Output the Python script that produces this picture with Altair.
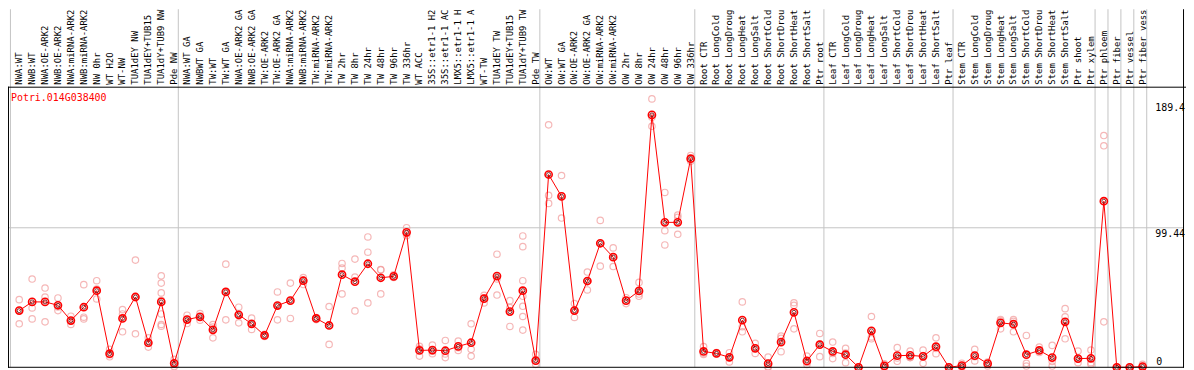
import altair as alt
import pandas as pd

gene_id = "Potri.014G038400"

categories = [
    "NWA:WT", "NWB:WT", "NWA:OE-ARK2", "NWB:OE-ARK2", "NWA:miRNA-ARK2", "NWB:miRNA-ARK2",
    "NW 0hr", "WT H2O", "WT-NW", "TUA1dEY NW", "TUA1dEY+TUB15", "TUA1dY+TUB9 NW", "Pde NW",
    "NWA:WT GA", "NWBWT GA", "TW:WT", "TW:WT GA", "NWA:OE-ARK2 GA", "NWB:OE-ARK2 GA",
    "TW:OE-ARK2", "TW:OE-ARK2 GA", "NWA:miRNA-ARK2", "NWB:miRNA-ARK2", "TW:miRNA-ARK2",
    "TW:miRNA-ARK2", "TW 2hr", "TW 8hr", "TW 24hr", "TW 48hr", "TW 96hr", "TW 336hr",
    "WT ACC", "35S::etr1-1 H2", "35S::etr1-1 AC", "LMX5::etr1-1 H", "LMX5::etr1-1 A",
    "WT-TW", "TUA1dEY TW", "TUA1dEY+TUB15", "TUA1dY+TUB9 TW", "Pde TW",
    "OW:WT", "OW:WT GA", "OW:OE-ARK2", "OW:OE-ARK2 GA", "OW:miRNA-ARK2", "OW:miRNA-ARK2",
    "OW 2hr", "OW 8hr", "OW 24hr", "OW 48hr", "OW 96hr", "OW 336hr",
    "Root CTR", "Root LongCold", "Root LongDroug", "Root LongHeat", "Root LongSalt",
    "Root ShortCold", "Root ShortDrou", "Root ShortHeat", "Root ShortSalt", "Ptr root",
    "Leaf CTR", "Leaf LongCold", "Leaf LongDroug", "Leaf LongHeat", "Leaf LongSalt",
    "Leaf ShortCold", "Leaf ShortDrou", "Leaf ShortHeat", "Leaf ShortSalt", "Ptr leaf",
    "Stem CTR", "Stem LongCold", "Stem LongDroug", "Stem LongHeat", "Stem LongSalt",
    "Stem ShortCold", "Stem ShortDrou", "Stem ShortHeat", "Stem ShortSalt", "Ptr shoot",
    "Ptr xylem", "Ptr phloem", "Ptr fiber", "Ptr vessel", "Ptr fiber vess",
]

means = [
    40.4, 46.6, 46.6, 44.2, 33.3, 42.8, 54.6, 9.7, 34.8, 50.1, 17.5, 46.6, 2.8,
    34.0, 36.0, 26.7, 53.7, 37.4, 31.0, 22.7, 44.0, 47.5, 61.7, 34.8, 29.8, 66.0, 61.0,
    73.8, 63.8, 64.8, 96.2, 12.0, 12.3, 11.8, 14.9, 17.5, 48.9, 65.0, 39.7, 54.6, 4.7,
    137.4, 121.8, 40.4, 61.5, 88.4, 78.5, 47.5, 54.4, 179.9, 103.3, 103.3, 148.7,
    11.3, 9.9, 7.1, 33.6, 13.5, 2.6, 18.0, 39.2, 4.5, 16.1,
    11.3, 9.0, 0.0, 26.0, 1.0, 8.3, 8.5, 7.8, 14.7, 0.0,
    1.2, 8.3, 2.6, 31.7, 30.7, 9.0, 12.0, 6.9, 32.4, 6.2, 6.4,
    118.4, 0.0, 0.0, 0.5,
]

replicates = [
    [48.2, 40.5, 31.0], [62.9, 42.3, 34.5], [56.5, 50.1, 32.4], [49.4, 43.0, 40.4],
    [36.4, 33.0, 30.5], [58.9, 35.7, 34.5], [61.7, 55.8, 48.7], [12.8, 9.0, 7.5],
    [41.1, 38.0, 25.3], [76.4, 50.0, 23.9], [21.0, 17.0, 14.4],
    [65.2, 60.0, 53.0, 47.7, 38.0, 30.5, 29.3], [5.7, 3.0, 0.5],
    [37.1, 34.0, 31.2], [38.3, 36.0, 33.6], [30.5, 28.6, 21.0], [73.5, 53.7, 33.8],
    [42.8, 37.6, 31.7], [35.0, 31.0, 27.0], [23.5, 22.6, 22.0], [53.7, 44.0, 33.8],
    [60.0, 47.7, 34.8], [64.0, 62.0, 59.0], [35.5, 34.8, 34.0], [43.3, 29.8, 16.3],
    [74.0, 70.7, 52.3], [77.1, 64.3, 40.2], [92.9, 82.0, 45.9], [69.5, 69.6, 52.3],
    [66.0, 64.5, 64.0], [99.5, 95.3, 93.8], [14.9, 13.1, 8.0], [15.8, 11.5, 9.7],
    [19.1, 9.5, 6.9], [18.7, 14.0, 12.0], [31.0, 12.8, 8.0], [51.3, 49.5, 45.9],
    [80.6, 63.0, 51.5], [47.5, 42.5, 29.1], [93.6, 86.0, 61.7, 50.6, 43.5, 36.2, 26.5],
    [9.2, 4.5, 2.1],
    [172.8, 122.5, 116.8], [136.7, 122.3, 106.4], [45.4, 40.4, 35.5], [67.9, 61.5, 55.1],
    [104.7, 88.4, 72.1], [85.1, 78.5, 71.8], [49.6, 47.5, 45.4], [60.5, 52.2, 50.6],
    [191.3, 178.2, 171.8], [124.6, 97.4, 87.2], [108.5, 106.9, 94.8], [151.0, 148.3, 146.8],
    [14.7, 10.0, 9.2], [10.5, 9.7, 9.5], [10.4, 7.1, 3.8], [46.6, 28.9, 25.3],
    [17.0, 13.5, 9.9], [7.3, 0.5, 0.0], [22.2, 20.7, 11.1], [46.0, 44.2, 27.4],
    [8.0, 3.5, 2.0], [24.1, 16.5, 7.6],
    [18.0, 9.8, 6.2], [13.5, 10.2, 3.3], [0.0, 0.0, 0.0], [36.2, 21.6, 20.3],
    [2.5, 0.5, 0.0], [14.0, 6.6, 4.3], [11.6, 7.0, 6.9], [12.3, 8.3, 2.8],
    [21.0, 13.4, 9.7], [0.0, 0.0, 0.0],
    [2.9, 0.7, 0.0], [12.8, 7.6, 4.5], [3.8, 2.6, 1.0], [34.0, 33.1, 27.4],
    [34.0, 32.8, 25.3], [22.7, 2.8, 0.9], [14.4, 12.0, 10.5], [15.6, 4.2, 0.9],
    [41.8, 36.0, 20.3], [11.6, 6.0, 3.3], [12.3, 3.3, 2.1],
    [165.2, 157.9, 32.4], [0.0, 0.0, 0.0], [0.0, 0.0, 0.0], [2.1, 0.5, 0.0],
]

group_starts = [0, 13, 41, 53, 63, 73, 84, 85, 86, 87, 88]
tick_values = [189.4, 99.44]
tick_labels = ["189.4", "99.44"]
zero_label = "0"

FONT = "DejaVu Sans Mono"

df_mean = pd.DataFrame({"i": list(range(len(categories))), "cat": categories, "mean": means})
rep_rows = [{"i": i, "v": v} for i, vals in enumerate(replicates) for v in vals]
df_rep = pd.DataFrame(rep_rows)
df_sep = pd.DataFrame({"s": [g - 0.68 for g in group_starts]})
df_ticks = pd.DataFrame({"v": tick_values, "t": tick_labels})
df_zero = pd.DataFrame({"v": [0.0], "t": [zero_label]})
df_title = pd.DataFrame({"t": [gene_id]})
df_grid = pd.DataFrame({"v": [tick_values[1]]})

xs = alt.Scale(domain=[-0.869, 90.362], nice=False, zero=False)
ys = alt.Scale(domain=[0, 200], nice=False, zero=False)

X = lambda f: alt.X(f, type="quantitative", scale=xs, axis=None)
Y = lambda f: alt.Y(f, type="quantitative", scale=ys, axis=None)

base_one = alt.Chart(pd.DataFrame({"a": [0]}))

separators = alt.Chart(df_sep).mark_rule(color="#c4c4c4", strokeWidth=1).encode(
    x=X("s"), y=alt.value(-78), y2=alt.value(282.5)
)

grid = alt.Chart(df_grid).mark_rule(color="#c4c4c4", strokeWidth=1).encode(
    y=Y("v"), x=alt.value(0), x2=alt.value(1184)
)

top_line = base_one.mark_rule(color="black", strokeWidth=1).encode(
    x=alt.value(0), x2=alt.value(1186), y=alt.value(0.5)
)
bottom_line = base_one.mark_rule(color="black", strokeWidth=1).encode(
    x=alt.value(0), x2=alt.value(1184), y=alt.value(282.5)
)
left_line = base_one.mark_rule(color="black", strokeWidth=1).encode(
    x=alt.value(0.5), y=alt.value(0), y2=alt.value(283)
)
right_line = base_one.mark_rule(color="black", strokeWidth=1).encode(
    x=alt.value(1183.5), y=alt.value(-78), y2=alt.value(283)
)

headers = alt.Chart(df_mean).mark_text(
    angle=270, align="left", baseline="middle", font=FONT, fontSize=9, color="black"
).encode(x=X("i"), y=alt.value(-2), text="cat:N")

title = alt.Chart(df_title).mark_text(
    align="left", baseline="middle", font=FONT, fontSize=10, color="#ff0000"
).encode(x=alt.value(3), y=alt.value(11), text="t:N")

ticks = alt.Chart(df_ticks).mark_text(
    align="left", baseline="top", font=FONT, fontSize=10, color="black", dy=1
).encode(x=alt.value(1155), y=Y("v"), text="t:N")

zero_tick = alt.Chart(df_zero).mark_text(
    align="left", baseline="alphabetic", font=FONT, fontSize=10, color="black", dy=-2
).encode(x=alt.value(1156), y=Y("v"), text="t:N")

reps = alt.Chart(df_rep).mark_point(
    shape="circle", filled=False, color="#f29a9a", size=42, strokeWidth=1.2
).encode(x=X("i"), y=Y("v"))

line = alt.Chart(df_mean).mark_line(color="#ff0000", strokeWidth=1).encode(
    x=X("i"), y=Y("mean")
)

mean_outer = alt.Chart(df_mean).mark_point(
    shape="circle", filled=False, color="#ff0000", size=52, strokeWidth=1.6, opacity=1
).encode(x=X("i"), y=Y("mean"))

mean_inner = alt.Chart(df_mean).mark_point(
    shape="circle", filled=False, color="#600000", size=16, strokeWidth=0.8, opacity=1
).encode(x=X("i"), y=Y("mean"))

chart = alt.layer(
    separators, grid, headers, title, ticks, zero_tick,
    reps, line, mean_outer, mean_inner,
    top_line, bottom_line, left_line, right_line,
).properties(
    width=1186,
    height=282.5,
    padding={"left": 0, "top": 78, "right": 0, "bottom": 1.5},
    autosize=alt.AutoSizeParams(type="none"),
    background="white",
).configure_view(stroke=None)

chart.save("out.html", embed_options={"renderer": "svg", "actions": False})
